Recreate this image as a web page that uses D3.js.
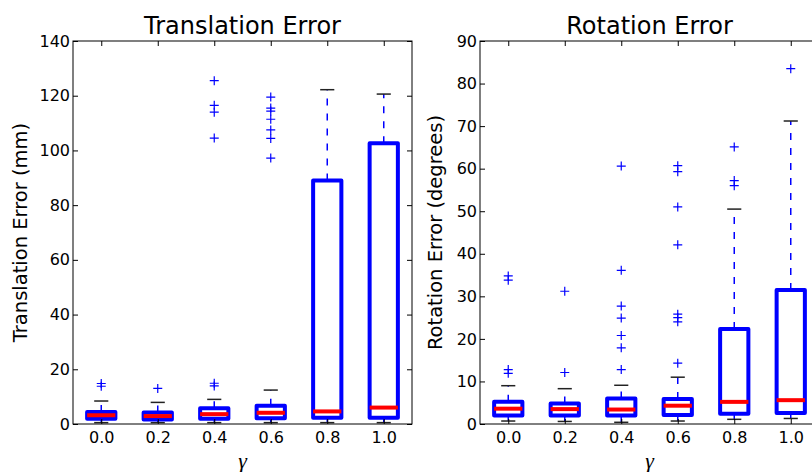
<!DOCTYPE html>
<html>
<head>
<meta charset="utf-8">
<script src="https://cdnjs.cloudflare.com/ajax/libs/d3/7.8.5/d3.min.js"></script>
<style>
  body { margin: 0; background: #fff; }
  svg { display: block; font-family: "DejaVu Sans", sans-serif; }
</style>
</head>
<body>
<svg id="chart" width="812" height="472"></svg>
<script>
// gamma values on the x axis
var gammaLabels = ["0.0", "0.2", "0.4", "0.6", "0.8", "1.0"];

// translation error (mm)
var transWhiskerLow  = [0.5, 0.5, 0.5, 0.5, 0.5, 0.5];
var transQ1          = [1.9, 1.6, 1.9, 2.1, 2.3, 2.3];
var transMedian      = [3.2, 2.9, 3.6, 4.1, 4.6, 6.0];
var transQ3          = [4.4, 4.2, 5.8, 6.7, 89.0, 102.6];
var transWhiskerHigh = [8.4, 7.9, 9.0, 12.4, 122.2, 120.6];
var transFliers = [
    [13.8, 14.8],
    [13.0],
    [13.9, 14.9, 104.5, 114.0, 116.5, 125.5],
    [97.2, 104.4, 107.5, 111.4, 114.4, 115.5, 119.5],
    [],
    []
];
var transTicks = [0, 20, 40, 60, 80, 100, 120, 140];

// rotation error (degrees)
var rotWhiskerLow  = [0.7, 0.6, 0.4, 0.7, 1.1, 1.3];
var rotQ1          = [2.0, 2.0, 2.0, 2.1, 2.4, 2.6];
var rotMedian      = [3.6, 3.5, 3.4, 4.3, 5.2, 5.6];
var rotQ3          = [5.2, 4.8, 6.0, 5.9, 22.3, 31.5];
var rotWhiskerHigh = [9.0, 8.3, 9.1, 11.0, 50.5, 71.2];
var rotFliers = [
    [11.9, 12.8, 33.8, 34.8],
    [12.1, 31.2],
    [12.8, 17.9, 20.8, 24.9, 27.7, 36.1, 60.6],
    [14.3, 24.0, 25.0, 25.8, 42.1, 51.0, 59.3, 60.7],
    [56.0, 57.2, 65.1],
    [83.5]
];
var rotTicks = [0, 10, 20, 30, 40, 50, 60, 70, 80, 90];

var svg = d3.select("#chart");

function drawPanel(p) {
    var left = p.left, top = 41, w = 339, h = 383;
    var g = svg.append("g").attr("transform", "translate(" + left + "," + top + ")");

    var x = d3.scaleLinear().domain([0.5, 6.5]).range([0, w]);
    var y = d3.scaleLinear().domain([0, p.ymax]).range([h, 0]);
    var pos = d3.range(1, 7);
    var boxW = x(1.25) - x(0.75);
    var capW = boxW / 2;

    var stats = pos.map(function (k, i) {
        return { p: k, lo: p.lo[i], q1: p.q1[i], med: p.med[i], q3: p.q3[i], hi: p.hi[i], fl: p.fl[i] };
    });

    // whiskers
    g.selectAll(".whisk-hi").data(stats).enter().append("line")
        .attr("x1", function (d) { return x(d.p); }).attr("x2", function (d) { return x(d.p); })
        .attr("y1", function (d) { return y(d.q3); }).attr("y2", function (d) { return y(d.hi); })
        .attr("stroke", "blue").attr("stroke-width", 1.5).attr("stroke-dasharray", "7,8");
    g.selectAll(".whisk-lo").data(stats).enter().append("line")
        .attr("x1", function (d) { return x(d.p); }).attr("x2", function (d) { return x(d.p); })
        .attr("y1", function (d) { return y(d.q1); }).attr("y2", function (d) { return y(d.lo); })
        .attr("stroke", "blue").attr("stroke-width", 1.5).attr("stroke-dasharray", "7,8");

    // caps
    ["lo", "hi"].forEach(function (key) {
        g.selectAll(".cap-" + key).data(stats).enter().append("line")
            .attr("x1", function (d) { return x(d.p) - capW / 2; })
            .attr("x2", function (d) { return x(d.p) + capW / 2; })
            .attr("y1", function (d) { return y(d[key]); })
            .attr("y2", function (d) { return y(d[key]); })
            .attr("stroke", "#222").attr("stroke-width", 1.5);
    });

    // boxes
    g.selectAll(".box").data(stats).enter().append("rect")
        .attr("x", function (d) { return x(d.p) - boxW / 2; })
        .attr("width", boxW)
        .attr("y", function (d) { return y(d.q3); })
        .attr("height", function (d) { return y(d.q1) - y(d.q3); })
        .attr("fill", "none").attr("stroke", "blue").attr("stroke-width", 4)
        .attr("stroke-linejoin", "round");

    // medians
    g.selectAll(".med").data(stats).enter().append("line")
        .attr("x1", function (d) { return x(d.p) - boxW / 2; })
        .attr("x2", function (d) { return x(d.p) + boxW / 2; })
        .attr("y1", function (d) { return y(d.med); })
        .attr("y2", function (d) { return y(d.med); })
        .attr("stroke", "red").attr("stroke-width", 4);

    // fliers
    var flierPts = [];
    stats.forEach(function (d) {
        d.fl.forEach(function (v) { flierPts.push({ p: d.p, v: v }); });
    });
    g.selectAll(".flier").data(flierPts).enter().append("path")
        .attr("transform", function (d) { return "translate(" + x(d.p) + "," + y(d.v) + ")"; })
        .attr("d", "M-4.5,0H4.5M0,-4.5V4.5")
        .attr("stroke", "blue").attr("stroke-width", 1.2).attr("fill", "none");

    // axes with inward ticks on all sides
    var tickFmt = function (d) { return gammaLabels[d - 1]; };
    var xb = g.append("g").attr("transform", "translate(0," + h + ")")
        .call(d3.axisBottom(x).tickValues(pos).tickFormat(tickFmt).tickSize(-5).tickPadding(8));
    var xt = g.append("g")
        .call(d3.axisTop(x).tickValues(pos).tickFormat("").tickSize(-5));
    var yl = g.append("g")
        .call(d3.axisLeft(y).tickValues(p.ticks).tickSize(-5).tickPadding(3));
    var yr = g.append("g").attr("transform", "translate(" + w + ",0)")
        .call(d3.axisRight(y).tickValues(p.ticks).tickFormat("").tickSize(-5));
    [xb, xt, yl, yr].forEach(function (a) {
        a.select(".domain").remove();
        a.selectAll("text").attr("font-family", "DejaVu Sans").attr("font-size", 16).attr("fill", "#000");
        a.selectAll("line").attr("stroke", "#000");
    });

    g.append("rect").attr("width", w).attr("height", h)
        .attr("fill", "none").attr("stroke", "#000").attr("stroke-width", 1);

    // title and labels
    g.append("text").attr("x", w / 2).attr("y", -7)
        .attr("text-anchor", "middle").attr("font-size", 24).text(p.title);
    g.append("text").attr("transform", "translate(" + p.ylabelX + "," + (h / 2) + ") rotate(-90)")
        .attr("text-anchor", "middle").attr("font-size", 19.5).text(p.ylabel);
    g.append("text").attr("x", w / 2).attr("y", h + 44)
        .attr("text-anchor", "middle").attr("font-family", "Liberation Serif, serif")
        .attr("font-style", "italic").attr("font-size", 22).text("γ");
}

drawPanel({
    left: 73, ymax: 140, ticks: transTicks, title: "Translation Error",
    ylabel: "Translation Error (mm)", ylabelX: -46,
    lo: transWhiskerLow, q1: transQ1, med: transMedian, q3: transQ3, hi: transWhiskerHigh, fl: transFliers
});
drawPanel({
    left: 480, ymax: 90, ticks: rotTicks, title: "Rotation Error",
    ylabel: "Rotation Error (degrees)", ylabelX: -38,
    lo: rotWhiskerLow, q1: rotQ1, med: rotMedian, q3: rotQ3, hi: rotWhiskerHigh, fl: rotFliers
});
</script>
</body>
</html>
